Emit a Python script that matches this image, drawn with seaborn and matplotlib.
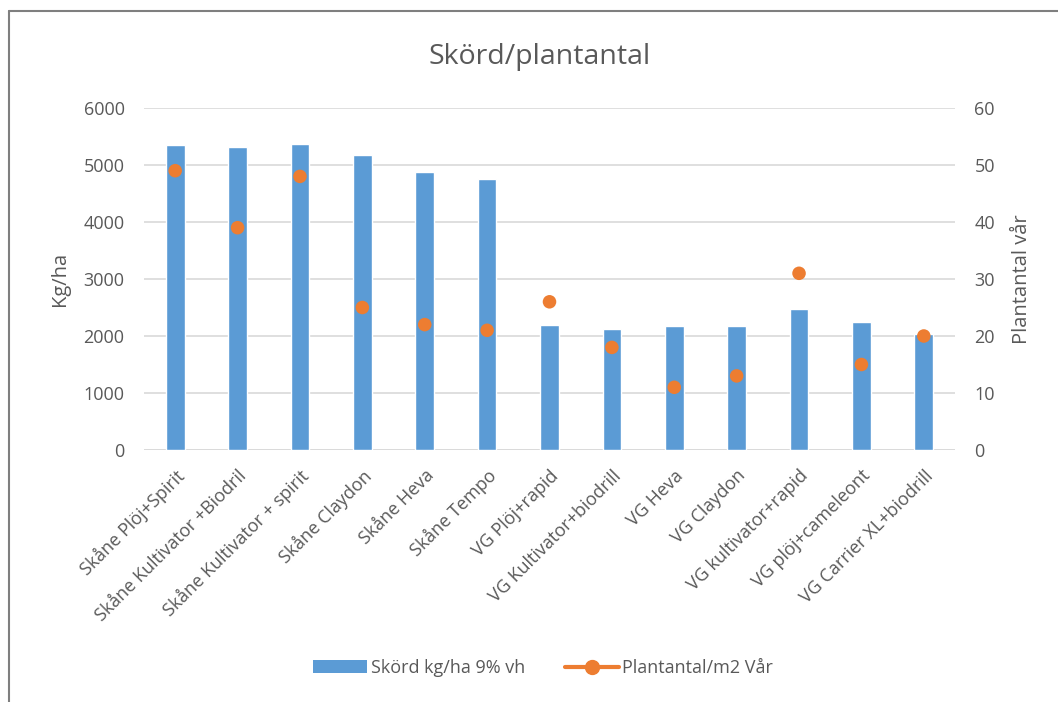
import matplotlib
matplotlib.use("Agg")
import matplotlib.pyplot as plt
import seaborn as sns
import pandas as pd
from matplotlib.lines import Line2D
from matplotlib.patches import Patch

categories = [
    "Skåne Plöj+Spirit", "Skåne Kultivator +Biodril", "Skåne Kultivator + spirit",
    "Skåne Claydon", "Skåne Heva", "Skåne Tempo", "VG Plöj+rapid",
    "VG Kultivator+biodrill", "VG Heva", "VG Claydon", "VG kultivator+rapid",
    "VG plöj+cameleont", "VG Carrier XL+biodrill",
]
skord = [5350, 5320, 5360, 5180, 4880, 4750, 2200, 2130, 2170, 2170, 2470, 2250, 2040]
plantantal = [49, 39, 48, 25, 22, 21, 26, 18, 11, 13, 31, 15, 20]
left_ticks = [0, 1000, 2000, 3000, 4000, 5000, 6000]
right_ticks = [0, 10, 20, 30, 40, 50, 60]

bar_label = "Skörd kg/ha 9% vh"
dot_label = "Plantantal/m2 Vår"

sns.set_theme(style="white")
plt.rcParams["font.family"] = ["Open Sans", "DejaVu Sans"]

TXT = "#595959"
BLUE = "#5B9BD5"
ORANGE = "#ED7D31"
GRID = "#D9D9D9"

df = pd.DataFrame({"cat": categories, "skord": skord, "plant": plantantal})

fig = plt.figure(figsize=(10.58, 7.02), dpi=100)
ax = fig.add_axes([144/1058, 1-450/702, (955-144)/1058, (450-108)/702])

sns.barplot(data=df, x="cat", y="skord", color=BLUE, saturation=1, width=0.3, ax=ax, zorder=2)
ax.set_ylim(0, 6000)
ax.set_yticks(left_ticks)
ax.set_xlim(-0.5, len(categories)-0.5)
ax.yaxis.grid(True, color=GRID, linewidth=1.2, zorder=0)
ax.set_axisbelow(True)
for s in ax.spines.values():
    s.set_visible(False)
ax.tick_params(axis="both", length=0, colors=TXT, labelsize=13)
ax.tick_params(axis="y", pad=14)
ax.set_xlabel("")
ax.set_ylabel("Kg/ha", color=TXT, fontsize=14.5, labelpad=10)
ax.set_xticks(range(len(categories)))
ax.set_xticklabels(categories, rotation=45, ha="right", rotation_mode="anchor",
                   color=TXT, fontsize=13)
ax.tick_params(axis="x", pad=12)
ax.axhline(0, color=GRID, linewidth=1.2, zorder=1)

ax2 = ax.twinx()
sns.scatterplot(data=df, x="cat", y="plant", color=ORANGE, s=95, edgecolor="none",
                ax=ax2, zorder=3, legend=False)
ax2.set_ylim(0, 60)
ax2.set_yticks(right_ticks)
ax2.set_xlim(-0.5, len(categories)-0.5)
for s in ax2.spines.values():
    s.set_visible(False)
ax2.tick_params(axis="y", length=0, colors=TXT, labelsize=13, pad=14)
ax2.set_ylabel("Plantantal vår", color=TXT, fontsize=14.5, labelpad=12)
ax2.set_xlabel("")

fig.text(540/1058, 1-57/702, "Skörd/plantantal", ha="center", va="center",
         color=TXT, fontsize=20.5)

handles = [Patch(facecolor=BLUE, edgecolor="none", label=bar_label),
           Line2D([0], [0], color=ORANGE, linewidth=3, marker="o", markersize=10,
                  label=dot_label)]
fig.legend(handles=handles, loc="center", bbox_to_anchor=(543/1058, 1-668/702), ncol=2,
           frameon=False, fontsize=13, labelcolor=TXT, handlelength=3.0,
           columnspacing=2.2, handletextpad=0.2)

fig.add_artist(Line2D([9/1058, 9/1058], [0, 1-11/702], transform=fig.transFigure,
                      color="#7F7F7F", linewidth=1.5))
fig.add_artist(Line2D([9/1058, 1], [1-11/702, 1-11/702], transform=fig.transFigure,
                      color="#7F7F7F", linewidth=1.5))

fig.savefig("out.png", dpi=100, facecolor="white")
